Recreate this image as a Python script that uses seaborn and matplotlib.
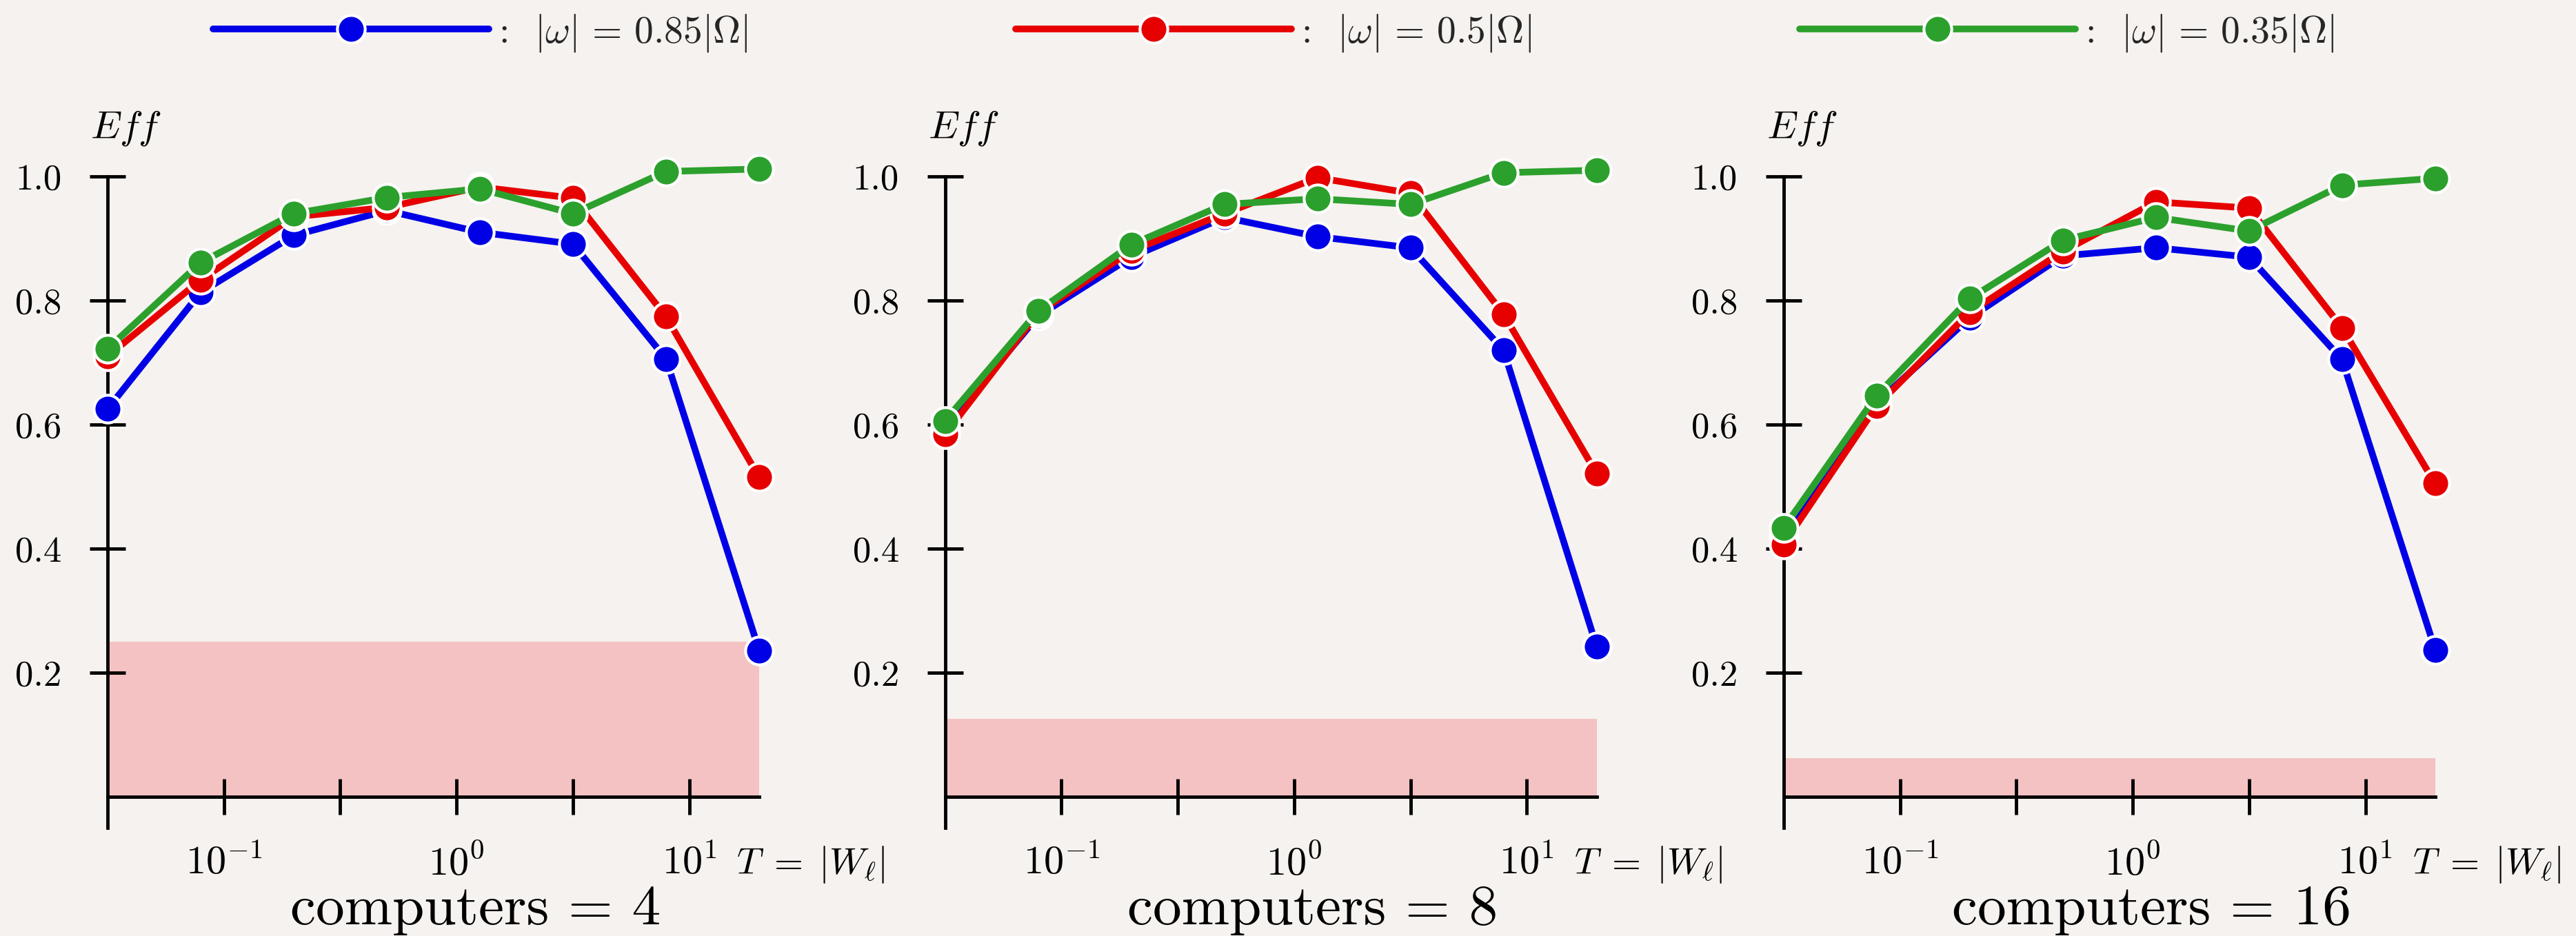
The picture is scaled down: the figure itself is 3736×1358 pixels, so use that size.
import numpy as np
import pandas as pd
import matplotlib
matplotlib.use("Agg")
import matplotlib.pyplot as plt
from matplotlib.lines import Line2D
from matplotlib.ticker import FixedLocator, NullFormatter
import seaborn as sns

# ---- data -------------------------------------------------------------
t_values = [0.0316, 0.0794, 0.1995, 0.501, 1.259, 3.162, 7.94, 19.95]
computers = [4, 8, 16]
omega_ratios = ["0.85", "0.5", "0.35"]

eff_c4_w085 = [0.625, 0.813, 0.905, 0.945, 0.910, 0.891, 0.706, 0.236]
eff_c4_w050 = [0.710, 0.833, 0.935, 0.950, 0.983, 0.965, 0.774, 0.515]
eff_c4_w035 = [0.722, 0.861, 0.940, 0.966, 0.980, 0.940, 1.008, 1.012]

eff_c8_w085 = [0.595, 0.775, 0.870, 0.934, 0.903, 0.885, 0.720, 0.242]
eff_c8_w050 = [0.584, 0.780, 0.880, 0.940, 0.998, 0.973, 0.778, 0.521]
eff_c8_w035 = [0.606, 0.783, 0.890, 0.955, 0.964, 0.955, 1.006, 1.010]

eff_c16_w085 = [0.420, 0.635, 0.772, 0.872, 0.885, 0.870, 0.705, 0.237]
eff_c16_w050 = [0.407, 0.630, 0.781, 0.879, 0.959, 0.949, 0.756, 0.505]
eff_c16_w035 = [0.433, 0.647, 0.803, 0.897, 0.934, 0.912, 0.986, 0.997]

# ideal-speedup floor 1/computers
floor_levels = [0.25, 0.125, 0.0625]

y_ticks = [0.2, 0.4, 0.6, 0.8, 1.0]
y_tick_labels = ["0.2", "0.4", "0.6", "0.8", "1.0"]
x_major_ticks = [0.1, 1.0, 10.0]
x_major_labels = [r"$10^{-1}$", r"$10^{0}$", r"$10^{1}$"]
x_minor_ticks = [10 ** -0.5, 10 ** 0.5]

series_by_panel = {
    4: [eff_c4_w085, eff_c4_w050, eff_c4_w035],
    8: [eff_c8_w085, eff_c8_w050, eff_c8_w035],
    16: [eff_c16_w085, eff_c16_w050, eff_c16_w035],
}

# ---- style ------------------------------------------------------------
bg = "#F5F2EF"
pink = "#F4C2C2"
colors = ["#0000E6", "#E60000", "#2CA02C"]
palette = dict(zip(omega_ratios, colors))

sns.set_theme(style="white")
plt.rcParams.update({
    "font.family": "serif",
    "font.serif": ["cmr10"],
    "mathtext.fontset": "cm",
    "axes.formatter.use_mathtext": True,
    "figure.facecolor": bg,
    "axes.facecolor": bg,
    "savefig.facecolor": bg,
    "xtick.bottom": True,
    "ytick.left": True,
})

LW = 7
MS = 29
MEW = 3
AX_LW = 3.5
x_lo, x_hi = 10 ** -1.5, 10 ** 1.3

fig = plt.figure(figsize=(37.37, 13.58), dpi=100)
lefts = [0.03271, 0.35775, 0.68317]

for left, n in zip(lefts, computers):
    ax = fig.add_axes([left, 0.09573, 0.27094, 0.7953])
    rows = []
    for ratio, vals in zip(omega_ratios, series_by_panel[n]):
        for t, e in zip(t_values, vals):
            rows.append({"T": t, "Eff": e, "omega": ratio})
    df = pd.DataFrame(rows)

    ax.fill_between([x_lo, x_hi], 0, floor_levels[computers.index(n)],
                    color=pink, linewidth=0, zorder=0.5)

    sns.lineplot(data=df, x="T", y="Eff", hue="omega", hue_order=omega_ratios,
                 palette=palette, marker="o", markersize=MS,
                 markeredgecolor="white", markeredgewidth=MEW, linewidth=LW,
                 estimator=None, sort=False, legend=False, ax=ax,
                 clip_on=False, zorder=3)

    ax.set_xscale("log")
    ax.set_xlim(10 ** -1.6, 10 ** 1.4)
    ax.set_ylim(-0.08, 1.12)
    ax.set_xlabel("")
    ax.set_ylabel("")

    for side in ("top", "right"):
        ax.spines[side].set_visible(False)
    ax.spines["left"].set_position(("data", x_lo))
    ax.spines["left"].set_bounds(-0.05, 1.0)
    ax.spines["bottom"].set_position(("data", 0))
    ax.spines["bottom"].set_bounds(x_lo, x_hi)
    for side in ("left", "bottom"):
        ax.spines[side].set_color("black")
        ax.spines[side].set_linewidth(AX_LW)

    ax.set_yticks(y_ticks)
    ax.set_yticklabels(y_tick_labels)
    ax.xaxis.set_major_locator(FixedLocator(x_major_ticks))
    ax.set_xticklabels(x_major_labels)
    ax.xaxis.set_minor_locator(FixedLocator(x_minor_ticks))
    ax.xaxis.set_minor_formatter(NullFormatter())
    ax.yaxis.set_minor_locator(FixedLocator([]))

    ax.tick_params(axis="both", which="both", direction="inout", length=38,
                   width=AX_LW, color="black", labelcolor="black",
                   left=True, bottom=True)
    ax.tick_params(axis="x", which="major", labelsize=42, pad=30)
    ax.tick_params(axis="y", which="major", labelsize=38, pad=29)

    ax.text(10 ** -1.42, 1.078, r"$Eff$", ha="center", va="center",
            fontsize=41, color="black")
    ax.text(10 ** 1.202, -0.11, r"$T\;=\;|W_\ell|$", ha="left", va="center",
            fontsize=39, color="black")
    ax.text(0.56, -0.1046, f"computers = {n}", transform=ax.transAxes,
            ha="center", va="baseline", fontsize=60, color="black")

handles = [Line2D([0], [0], color=c, linewidth=LW, marker="o", markersize=MS,
                  markeredgecolor="white", markeredgewidth=MEW) for c in colors]
labels = [":  " + rf"$|\omega|\,=\,{r}|\Omega|$" for r in omega_ratios]
fig.legend(handles, labels, loc="center", bbox_to_anchor=(0.4943, 0.965),
           ncol=3, frameon=False, handlelength=7.2, handletextpad=0.25,
           columnspacing=7.0, fontsize=40)

fig.savefig("out.png", dpi=100)
